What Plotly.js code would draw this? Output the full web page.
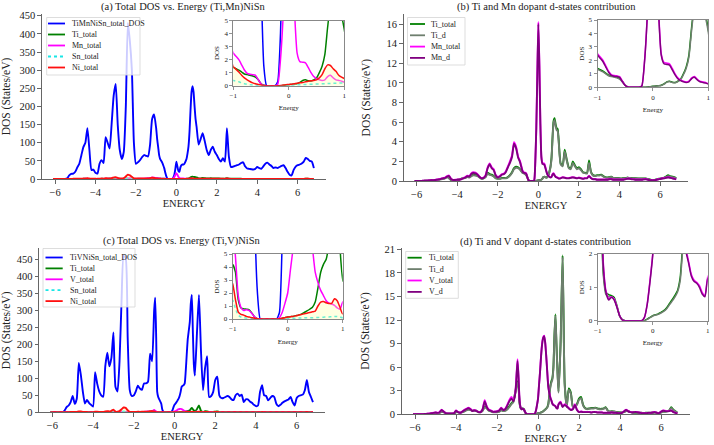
<!DOCTYPE html>
<html><head><meta charset="utf-8">
<script src="https://cdn.plot.ly/plotly-3.0.1.min.js"></script>
<style>html,body{margin:0;padding:0;background:#fff}#chart{width:714px;height:445px}</style>
</head><body><div id="chart"></div>
<script>
// ---------------- DATA ----------------
const energy = [
 -6.1,-6.0,-5.9,-5.8,-5.7,-5.6,-5.5,-5.4,-5.3,-5.2,
 -5.1,-5.0,-4.9,-4.8,-4.7,-4.6,-4.5,-4.4,-4.3,-4.2,
 -4.1,-4.0,-3.9,-3.8,-3.7,-3.6,-3.5,-3.4,-3.3,-3.2,
 -3.1,-3.0,-2.9,-2.8,-2.7,-2.6,-2.5,-2.4,-2.3,-2.2,
 -2.1,-2.0,-1.9,-1.8,-1.7,-1.6,-1.5,-1.4,-1.3,-1.2,
 -1.1,
 -1.0,-0.95,-0.9,-0.85,-0.8,-0.75,-0.7,-0.65,-0.6,-0.55,
 -0.5,-0.45,-0.4,-0.35,-0.3,-0.25,-0.2,-0.15,-0.1,-0.05,
 0.0,0.05,0.1,0.15,0.2,0.25,0.3,0.35,0.4,0.45,
 0.5,0.55,0.6,0.65,0.7,0.75,0.8,0.85,0.9,0.95,
 1.0,
 1.1,1.2,1.3,1.4,1.5,1.6,1.7,1.8,1.9,2.0,
 2.1,2.2,2.3,2.4,2.5,2.6,2.7,2.8,2.9,3.0,
 3.1,3.2,3.3,3.4,3.5,3.6,3.7,3.8,3.9,4.0,
 4.1,4.2,4.3,4.4,4.5,4.6,4.7,4.8,4.9,5.0,
 5.1,5.2,5.3,5.4,5.5,5.6,5.7,5.8,5.9,6.0,
 6.1,6.2,6.3,6.4,6.5,6.6,6.7,6.8];

// (Ti,Mn)NiSn
const totA = [
 0,0,0,0,0,0,0,2,10,14,
 15,20,32,42,65,88,100,140,80,25,
 26,17,15,42,52,44,115,100,84,153,
 230,262,150,80,55,75,200,430,380,300,
 100,42,46,52,60,66,64,62,95,165,
 178,
 140,110,88,65,55,50,45,38,30,18,
 8,1.5,0,0,0,0,0.3,4,12,28,
 48,35,22,20,32,38,40,40,42,48,
 55,70,90,130,190,240,256,240,200,165,
 144,
 95,110,126,105,80,66,80,89,75,66,
 55,48,57,48,140,60,33,34,36,38,
 40,44,46,35,29,28,27,26,28,33,
 30,28,35,42,45,40,36,30,32,30,
 33,36,38,30,20,12,10,25,34,38,
 40,43,48,58,55,50,48,30];
const tiA = [
 0,0,0,0,0,0.02,0.03,0.05,0.07,0.1,
 0.1,0.12,0.15,0.2,0.25,0.3,0.45,0.3,0.1,0.1,
 0.1,0.12,0.15,0.25,0.3,0.35,0.45,0.4,0.55,0.65,
 0.6,0.55,0.4,0.25,0.3,0.45,0.85,0.7,0.65,0.5,
 0.3,0.25,0.25,0.3,0.3,0.3,0.4,0.6,0.9,1.3,
 1.45,
 1.4,1.3,1.2,1.05,0.9,0.85,0.8,0.75,0.65,0.45,
 0.15,0.03,0,0,0,0,0,0,0.02,0.05,
 0.07,0.1,0.12,0.15,0.25,0.4,0.45,0.38,0.35,0.45,
 0.6,1.0,1.5,2.4,4.5,6.1,6.4,5.8,5.4,5.3,
 4.3,
 1.8,1.6,3.2,2.2,1.4,1.3,2.0,1.6,1.3,1.4,
 1.2,0.9,0.85,0.8,2.1,0.9,0.6,0.55,0.6,0.6,
 0.65,0.5,0.4,0.35,0.4,0.45,0.3,0.3,0.3,0.28,
 0.25,0.3,0.3,0.35,0.3,0.3,0.28,0.28,0.27,0.26,
 0.25,0.25,0.25,0.2,0.15,0.1,0.1,0.15,0.2,0.25,
 0.3,0.35,0.45,0.6,0.5,0.45,0.4,0.3];
const tiDA = [
 0,0,0,0,0,0.02,0.03,0.04,0.06,0.08,
 0.09,0.1,0.13,0.17,0.22,0.27,0.38,0.26,0.09,0.09,
 0.09,0.1,0.13,0.22,0.27,0.31,0.4,0.36,0.5,0.58,
 0.55,0.5,0.36,0.22,0.27,0.4,0.75,0.62,0.58,0.45,
 0.27,0.22,0.22,0.27,0.27,0.27,0.36,0.55,0.82,1.2,
 1.35,
 1.32,1.24,1.14,1.0,0.86,0.8,0.76,0.7,0.6,0.4,
 0.13,0.02,0,0,0,0,0,0,0.02,0.04,
 0.06,0.09,0.11,0.14,0.23,0.38,0.43,0.36,0.33,0.43,
 0.56,0.93,1.4,2.25,4.3,5.9,6.2,5.6,5.2,5.1,
 4.1,
 1.7,1.5,3.0,2.1,1.3,1.2,1.85,1.5,1.2,1.3,
 1.1,0.85,0.8,0.75,1.85,0.85,0.55,0.5,0.55,0.55,
 0.6,0.46,0.37,0.32,0.37,0.42,0.28,0.28,0.28,0.26,
 0.23,0.28,0.28,0.32,0.28,0.28,0.26,0.26,0.25,0.24,
 0.23,0.23,0.23,0.18,0.14,0.09,0.09,0.14,0.18,0.23,
 0.27,0.32,0.4,0.5,0.45,0.4,0.35,0.27];
const mnA = [
 0,0,0,0.01,0.02,0.03,0.05,0.06,0.08,0.1,
 0.12,0.15,0.18,0.25,0.3,0.35,0.5,0.55,0.2,0.12,
 0.12,0.15,0.15,0.2,0.3,0.4,0.55,0.5,0.8,0.9,
 0.85,0.7,0.45,0.3,0.35,0.6,1.4,1.8,1.4,1.2,
 0.6,0.4,0.5,0.7,0.75,1.0,1.5,2.0,2.6,3.95,
 3.5,
 2.5,2.25,2.0,1.6,1.2,0.95,0.88,0.85,0.8,0.45,
 0.15,0.02,0,0,0,0,0.1,2.0,5.5,11,
 16.2,12,6,2.5,1.85,1.8,1.75,1.4,1.0,0.7,
 0.55,0.45,0.4,0.45,0.7,0.8,0.6,0.45,0.4,0.35,
 0.28,
 0.3,0.4,0.35,0.3,0.3,0.35,0.4,0.35,0.3,0.35,
 0.3,0.25,0.3,0.3,0.55,0.3,0.2,0.2,0.15,0.15,
 0.15,0.15,0.15,0.15,0.2,0.2,0.15,0.15,0.15,0.15,
 0.15,0.15,0.2,0.25,0.25,0.2,0.18,0.15,0.15,0.15,
 0.15,0.18,0.2,0.15,0.1,0.08,0.08,0.12,0.18,0.22,
 0.28,0.3,0.35,0.4,0.35,0.3,0.25,0.2];
const mnDA = [
 0,0,0,0.01,0.02,0.03,0.04,0.05,0.07,0.09,
 0.1,0.13,0.16,0.22,0.27,0.31,0.45,0.5,0.18,0.1,
 0.1,0.13,0.13,0.18,0.27,0.36,0.5,0.45,0.73,0.82,
 0.78,0.64,0.41,0.27,0.32,0.55,1.3,1.7,1.3,1.1,
 0.55,0.36,0.45,0.64,0.7,0.92,1.4,1.85,2.45,3.8,
 3.35,
 2.4,2.15,1.9,1.5,1.12,0.88,0.82,0.8,0.74,0.41,
 0.13,0.02,0,0,0,0,0.1,1.95,5.4,10.8,
 16.0,11.8,5.8,2.4,1.75,1.7,1.65,1.3,0.93,0.64,
 0.5,0.41,0.36,0.41,0.65,0.74,0.55,0.41,0.36,0.32,
 0.25,
 0.27,0.36,0.32,0.27,0.27,0.32,0.36,0.32,0.27,0.32,
 0.27,0.22,0.27,0.27,0.5,0.27,0.18,0.18,0.13,0.13,
 0.13,0.13,0.13,0.13,0.18,0.18,0.13,0.13,0.13,0.13,
 0.13,0.13,0.18,0.22,0.22,0.18,0.16,0.13,0.13,0.13,
 0.13,0.16,0.18,0.13,0.09,0.07,0.07,0.1,0.16,0.2,
 0.25,0.27,0.32,0.36,0.32,0.27,0.22,0.18];
const snA = [
 0,0,0,0,0.01,0.02,0.05,0.1,0.15,0.2,
 0.25,0.3,0.35,0.4,0.5,0.6,0.7,0.8,0.5,0.3,
 0.3,0.3,0.3,0.5,0.6,0.5,0.8,0.7,0.6,0.9,
 1.2,1.3,0.8,0.5,0.4,0.6,1.2,1.8,1.5,1.2,
 0.5,0.3,0.3,0.35,0.4,0.45,0.4,0.4,0.5,0.6,
 0.5,
 0.4,0.35,0.3,0.22,0.15,0.1,0.08,0.06,0.05,0.03,
 0.02,0.01,0,0,0,0,0,0,0.01,0.02,
 0.04,0.05,0.06,0.07,0.08,0.09,0.1,0.1,0.11,0.12,
 0.13,0.14,0.15,0.15,0.16,0.17,0.18,0.19,0.2,0.2,
 0.2,
 0.22,0.25,0.3,0.28,0.25,0.22,0.25,0.28,0.25,0.22,
 0.2,0.2,0.22,0.2,0.35,0.2,0.15,0.15,0.15,0.15,
 0.15,0.15,0.15,0.12,0.12,0.12,0.12,0.12,0.12,0.13,
 0.12,0.12,0.14,0.16,0.17,0.16,0.15,0.13,0.13,0.13,
 0.13,0.14,0.15,0.13,0.1,0.08,0.07,0.1,0.13,0.15,
 0.16,0.17,0.2,0.24,0.22,0.2,0.18,0.12];
const niA = [
 0,0,0,0,0.02,0.05,0.1,0.2,0.3,0.4,
 0.5,0.6,0.7,0.8,1.0,1.3,1.5,2.0,1.2,0.6,
 0.6,0.5,0.5,1.0,1.3,1.1,2.0,1.8,1.6,2.5,
 4.0,5.0,3.0,1.8,1.5,2.5,7.0,12,10,6,
 2.0,1.2,1.3,1.5,1.6,1.8,1.8,1.8,2.5,3.5,
 2.8,
 1.46,1.25,1.05,0.8,0.6,0.45,0.32,0.22,0.15,0.1,
 0.05,0.01,0,0,0,0,0,0.02,0.05,0.08,
 0.1,0.12,0.15,0.18,0.22,0.25,0.3,0.35,0.38,0.4,
 0.45,0.6,0.85,1.3,1.6,1.55,1.3,1.1,0.8,0.65,
 0.55,
 0.6,0.8,1.0,0.9,0.7,0.6,0.8,0.9,0.7,0.6,
 0.55,0.5,0.55,0.5,1.2,0.5,0.35,0.35,0.35,0.38,
 0.4,0.42,0.45,0.35,0.3,0.3,0.28,0.28,0.3,0.32,
 0.3,0.3,0.35,0.42,0.45,0.4,0.36,0.3,0.32,0.3,
 0.32,0.35,0.38,0.3,0.2,0.12,0.1,0.25,0.32,0.38,
 0.4,0.42,0.48,0.55,0.52,0.48,0.45,0.3];

// (Ti,V)NiSn
const totC = [
 0,0,0,0,0,0,0,5,15,20,
 30,48,25,40,145,110,60,26,36,28,
 22,17,118,85,62,50,46,135,175,135,
 160,235,75,61,150,330,460,455,220,66,
 48,50,62,78,70,66,85,85,90,172,
 150,
 300,337,220,60,45,38,32,25,8,2,
 0,0,0,0,0,0,0,0.5,6,15,
 22,26,30,35,40,48,60,75,78,80,
 85,120,170,215,240,265,320,345,240,140,
 108,
 230,345,180,65,130,165,45,48,60,95,
 105,50,42,42,45,48,45,38,36,50,
 55,48,52,30,38,38,32,28,22,18,
 20,60,80,50,48,35,42,48,45,25,
 18,22,28,32,35,38,45,30,20,42,
 48,50,52,65,95,60,45,30];
const tiC = [
 0,0,0,0,0,0,0.02,0.03,0.05,0.08,
 0.1,0.12,0.15,0.2,0.35,0.3,0.15,0.1,0.1,0.1,
 0.1,0.3,0.3,0.2,0.3,0.4,0.55,0.65,0.6,0.45,
 0.5,0.45,0.3,0.3,0.5,1.0,0.8,0.5,0.4,0.3,
 0.3,0.3,0.35,0.55,0.45,0.5,0.7,1.0,1.4,1.7,
 3.0,
 4.2,3.6,1.5,0.85,0.78,0.75,0.7,0.45,0.15,0.03,
 0,0,0,0,0,0,0,0,0.05,0.1,
 0.15,0.18,0.2,0.25,0.3,0.38,0.5,0.62,0.75,0.9,
 1.3,2.4,3.6,4.2,4.6,6.0,10,12.7,9,5.5,
 2.9,
 9,20.2,4.0,1.0,3.3,2.8,1.0,1.0,1.3,2.0,
 2.2,1.2,0.8,0.7,0.75,0.8,0.8,0.85,0.75,0.7,
 0.7,0.75,0.9,0.5,0.35,0.4,0.35,0.3,0.28,0.25,
 0.25,0.3,0.45,0.4,0.3,0.25,0.2,0.2,0.2,0.2,
 0.18,0.18,0.2,0.2,0.2,0.2,0.25,0.2,0.15,0.25,
 0.35,0.35,0.4,0.5,0.9,0.6,0.4,0.2];
const tiDC = [
 0,0,0,0,0,0,0.02,0.03,0.04,0.07,
 0.09,0.1,0.13,0.18,0.3,0.26,0.13,0.09,0.09,0.09,
 0.09,0.26,0.26,0.18,0.26,0.35,0.5,0.58,0.54,0.4,
 0.45,0.4,0.26,0.26,0.45,0.9,0.72,0.45,0.36,0.26,
 0.26,0.26,0.3,0.5,0.4,0.45,0.62,0.9,1.28,1.55,
 2.8,
 4.0,3.4,1.4,0.78,0.72,0.7,0.65,0.41,0.13,0.02,
 0,0,0,0,0,0,0,0,0.04,0.09,
 0.14,0.17,0.19,0.23,0.28,0.35,0.47,0.58,0.7,0.85,
 1.2,2.25,3.4,4.0,4.4,5.8,9.7,12.5,8.8,5.3,
 2.75,
 8.8,20.0,3.8,0.95,3.1,2.65,0.95,0.92,1.2,1.85,
 2.05,1.1,0.74,0.65,0.7,0.74,0.74,0.8,0.7,0.65,
 0.65,0.7,0.84,0.46,0.32,0.37,0.32,0.28,0.26,0.23,
 0.23,0.28,0.42,0.37,0.28,0.23,0.18,0.18,0.18,0.18,
 0.16,0.16,0.18,0.18,0.18,0.18,0.23,0.18,0.14,0.23,
 0.32,0.32,0.37,0.46,0.8,0.55,0.37,0.18];
const vC = [
 0,0,0,0,0,0.02,0.05,0.08,0.1,0.15,
 0.2,0.25,0.2,0.3,0.6,0.35,0.15,0.1,0.1,0.1,
 0.15,0.5,0.3,0.2,0.35,0.55,0.7,0.85,0.7,0.45,
 0.55,0.45,0.3,0.3,0.7,1.8,1.0,0.6,0.5,0.35,
 0.35,0.4,0.5,0.85,0.6,0.7,1.2,1.8,2.2,1.8,
 3.0,
 7.0,4.8,1.8,0.9,0.65,0.72,0.65,0.42,0.15,0.02,
 0,0,0,0,0,0,0,0.1,0.5,1.2,
 2.0,3.8,5.5,7.5,9.0,9.8,10.0,9.2,7.5,5.5,
 3.6,2.8,2.2,1.8,1.4,1.22,1.15,1.05,0.85,0.75,
 1.3,
 1.6,1.0,1.3,1.1,0.8,0.6,0.7,1.3,0.6,0.3,
 0.35,0.3,0.3,0.3,0.3,0.25,0.3,0.3,0.25,0.25,
 0.25,0.2,0.2,0.2,0.2,0.25,0.2,0.2,0.15,0.15,
 0.2,0.4,0.6,0.4,0.3,0.25,0.3,0.3,0.25,0.2,
 0.15,0.15,0.15,0.2,0.2,0.25,0.3,0.2,0.15,0.35,
 0.5,0.45,0.4,0.45,0.5,0.3,0.2,0.1];
const vDC = [
 0,0,0,0,0,0.02,0.04,0.07,0.09,0.13,
 0.18,0.22,0.18,0.27,0.55,0.32,0.13,0.09,0.09,0.09,
 0.13,0.45,0.27,0.18,0.32,0.5,0.64,0.78,0.64,0.41,
 0.5,0.41,0.27,0.27,0.64,1.65,0.92,0.55,0.45,0.32,
 0.32,0.36,0.45,0.78,0.55,0.64,1.1,1.65,2.0,1.65,
 2.8,
 6.8,4.6,1.7,0.85,0.62,0.7,0.62,0.4,0.14,0.02,
 0,0,0,0,0,0,0,0.1,0.48,1.15,
 1.95,3.7,5.4,7.4,8.9,9.7,9.95,9.1,7.4,5.4,
 3.5,2.7,2.1,1.75,1.35,1.18,1.12,1.0,0.8,0.72,
 1.25,
 1.5,0.92,1.2,1.0,0.74,0.55,0.64,1.2,0.55,0.28,
 0.32,0.28,0.28,0.28,0.28,0.23,0.28,0.28,0.23,0.23,
 0.23,0.18,0.18,0.18,0.18,0.23,0.18,0.18,0.14,0.14,
 0.18,0.37,0.55,0.37,0.28,0.23,0.28,0.28,0.23,0.18,
 0.14,0.14,0.14,0.18,0.18,0.23,0.28,0.18,0.14,0.32,
 0.46,0.41,0.37,0.41,0.46,0.28,0.18,0.09];
const snC = [
 0,0,0,0,0.01,0.02,0.05,0.1,0.15,0.2,
 0.25,0.35,0.3,0.4,0.8,0.7,0.4,0.3,0.3,0.3,
 0.3,0.3,0.7,0.6,0.5,0.4,0.4,0.8,1.0,0.8,
 1.0,1.3,0.6,0.5,0.8,1.6,2.2,2.0,1.2,0.5,
 0.4,0.4,0.5,0.6,0.5,0.5,0.6,0.6,0.7,1.0,
 1.2,
 1.45,0.8,0.3,0.15,0.1,0.07,0.05,0.03,0.02,0.01,
 0,0,0,0,0,0,0,0,0.01,0.02,
 0.03,0.04,0.05,0.06,0.07,0.08,0.09,0.1,0.1,0.1,
 0.11,0.12,0.13,0.14,0.15,0.16,0.17,0.19,0.2,0.15,
 0.1,
 0.2,0.3,0.25,0.15,0.2,0.22,0.15,0.15,0.18,0.22,
 0.22,0.18,0.16,0.16,0.17,0.18,0.17,0.16,0.15,0.18,
 0.18,0.17,0.18,0.12,0.13,0.13,0.12,0.11,0.1,0.09,
 0.1,0.18,0.22,0.16,0.16,0.13,0.14,0.16,0.15,0.1,
 0.08,0.09,0.1,0.11,0.12,0.13,0.15,0.11,0.08,0.14,
 0.16,0.17,0.18,0.22,0.3,0.2,0.15,0.1];
const niC = [
 0,0,0,0,0.02,0.05,0.1,0.2,0.4,0.6,
 0.8,1.2,0.8,1.0,2.5,2.2,1.2,0.7,0.8,0.6,
 0.5,0.6,2.0,1.5,1.2,1.0,1.0,2.5,3.5,2.5,
 4.5,8.0,2.0,1.5,3.5,9.0,14,13,6,1.5,
 1.0,1.0,1.2,1.6,1.3,1.4,1.8,1.8,2.0,3.0,
 3.5,
 2.7,1.5,0.55,0.35,0.3,0.2,0.15,0.1,0.05,0.02,
 0,0,0,0,0,0,0,0.02,0.05,0.1,
 0.15,0.18,0.2,0.25,0.3,0.35,0.4,0.45,0.5,0.55,
 0.6,1.0,1.3,1.35,1.25,1.2,1.2,1.55,1.4,0.9,
 0.4,
 0.8,1.5,1.0,0.6,0.9,1.0,0.5,0.5,0.6,0.9,
 1.0,0.6,0.5,0.5,0.5,0.5,0.5,0.45,0.4,0.5,
 0.55,0.5,0.5,0.35,0.4,0.4,0.35,0.3,0.25,0.22,
 0.25,0.5,0.7,0.5,0.45,0.35,0.4,0.45,0.42,0.28,
 0.2,0.25,0.3,0.35,0.38,0.4,0.45,0.32,0.22,0.4,
 0.45,0.48,0.5,0.6,0.8,0.55,0.42,0.3];

const legendA = ['TiMnNiSn_total_DOS','Ti_total','Mn_total','Sn_total','Ni_total'];
const legendB = ['Ti_total','Ti_d','Mn_total','Mn_d'];
const legendC = ['TiVNiSn_total_DOS','Ti_total','V_total','Sn_total','Ni_total'];
const legendD = ['Ti_total','Ti_d','V_total','V_d'];
const titles = ['(a) Total DOS vs. Energy (Ti,Mn)NiSn','(b) Ti and Mn dopant d-states contribution',
                '(c) Total DOS vs. Energy (Ti,V)NiSn','(d) Ti and V dopant d-states contribution'];
const mainTicksX = [-6,-4,-2,0,2,4,6];

// ---------------- STYLE / LAYOUT ----------------
const W = 714, H = 445;
const F = 'Liberation Serif, serif';
const TXT = '#222';
const COL = {blue:'#0000ff', green:'#008000', magenta:'#ff00ff', cyan:'#19e6e6',
             red:'#ff1010', gray:'#6e7f6e', purple:'#800080'};
const NIFILL = 'rgba(255,255,170,0.35)';

const panels = [
 {series:[[totA,'blue'],[tiA,'green'],[mnA,'magenta'],[snA,'cyan','dot'],[niA,'red',null,true]], names:legendA,
  mx:[41.9,326], my:[13.9,179], yr:[0,455], dt:50,
  ix:[233.3,344.3], iy:[20.5,85.7], iyr:[0,5], idt:1,
  tx:183.5, ty:7.3,
  lg:{box:[46.7,140,17.5,75], y0:23.5, dy:11, lx:[48,65], tx:70}},
 {series:[[tiA,'green'],[tiDA,'gray'],[mnA,'magenta'],[mnDA,'purple']], names:legendB,
  mx:[403.5,688.4], my:[14.2,181], yr:[0,17], dt:2,
  ix:[597.5,708.3], iy:[20,87.3], iyr:[0,5], idt:1,
  tx:546, ty:7.3,
  lg:{box:[407.5,465,17.5,65], y0:24, dy:11.3, lx:[410,425], tx:428.5}},
 {series:[[totC,'blue'],[tiC,'green'],[vC,'magenta'],[snC,'cyan','dot'],[niC,'red',null,true]], names:legendC,
  mx:[39.1,325.2], my:[248.4,412.3], yr:[0,482], dt:50,
  ix:[232.7,342.7], iy:[254,319], iyr:[0,5], idt:1,
  tx:182.3, ty:240.7,
  lg:{box:[43,135,248.5,307], y0:257.5, dy:10.9, lx:[45.5,62.7], tx:68}},
 {series:[[tiC,'green'],[tiDC,'gray'],[vC,'magenta'],[vDC,'purple']], names:legendD,
  mx:[401.7,689.7], my:[247.7,414.3], yr:[0,21.2], dt:3,
  ix:[597.7,707.7], iy:[254,320.7], iyr:[0,2], idt:1,
  tx:545.8, ty:241.7,
  lg:{box:[405.7,458.3,251.5,298.3], y0:257.7, dy:11.4, lx:[407.5,421.7], tx:426.5}}
];

const traces = [];
const layout = {
  width:W, height:H, margin:{l:0,r:0,t:0,b:0}, showlegend:false,
  paper_bgcolor:'#ffffff', plot_bgcolor:'#ffffff',
  font:{family:F, color:TXT}, shapes:[], annotations:[]
};
const pxX = v => v / W, pxY = v => 1 - v / H;

panels.forEach((P, i) => {
  const s = i ? String(i + 1) : '';
  const k = String(i + 5);
  // main axes
  layout['xaxis' + s] = {
    domain:[pxX(P.mx[0]), pxX(P.mx[1])], anchor:'y' + s, range:[-6.65, 7.4],
    tickmode:'array', tickvals:mainTicksX, ticks:'outside', ticklen:3.5, tickwidth:1, tickcolor:'#666',
    showline:true, linecolor:'#666', linewidth:1, showgrid:false, zeroline:false,
    tickfont:{family:F, size:10.5, color:TXT}, fixedrange:true,
    title:{text:'ENERGY', font:{family:F, size:10.5, color:TXT}, standoff:1}
  };
  layout['yaxis' + s] = {
    domain:[pxY(P.my[1]), pxY(P.my[0])], anchor:'x' + s, range:P.yr,
    tick0:0, dtick:P.dt, ticks:'outside', ticklen:3.5, tickwidth:1, tickcolor:'#666',
    showline:true, linecolor:'#666', linewidth:1, showgrid:false, zeroline:false,
    tickfont:{family:F, size:10.5, color:TXT}, fixedrange:true,
    title:{text:'DOS (States/eV)', font:{family:F, size:11.5, color:TXT}}
  };
  // inset axes
  layout['xaxis' + k] = {
    domain:[pxX(P.ix[0]), pxX(P.ix[1])], anchor:'y' + k, range:[-1, 1],
    tick0:-1, dtick:1, ticks:'outside', ticklen:3, tickwidth:0.8, tickcolor:'#777',
    showline:true, mirror:true, linecolor:'#888', linewidth:1, showgrid:false, zeroline:false,
    tickfont:{family:F, size:7, color:TXT}, fixedrange:true,
    title:{text:'Energy', font:{family:F, size:7, color:TXT}, standoff:6}
  };
  layout['yaxis' + k] = {
    domain:[pxY(P.iy[1]), pxY(P.iy[0])], anchor:'x' + k, range:P.iyr,
    tick0:0, dtick:P.idt, ticks:'outside', ticklen:3, tickwidth:0.8, tickcolor:'#777',
    showline:true, mirror:true, linecolor:'#888', linewidth:1, showgrid:false, zeroline:false,
    tickfont:{family:F, size:7, color:TXT}, fixedrange:true,
    title:{text:'DOS', font:{family:F, size:7, color:TXT}, standoff:3}
  };
  // traces: main + inset
  P.series.forEach(([ys, c, dash, fill], j) => {
    [['x' + s, 'y' + s, 1.9], ['x' + k, 'y' + k, 1.5]].forEach(([xa, ya, w]) => {
      const t = {type:'scatter', mode:'lines', x:energy, y:ys, xaxis:xa, yaxis:ya,
        name:P.names[j], hoverinfo:'skip',
        line:{color:COL[c], width:w, shape:'spline', smoothing:0.5, dash:dash || 'solid'}};
      if (fill) { t.fill = 'tozeroy'; t.fillcolor = NIFILL; }
      traces.push(t);
    });
  });
  // panel title
  layout.annotations.push({xref:'paper', yref:'paper', x:pxX(P.tx), y:pxY(P.ty), text:titles[i],
    showarrow:false, xanchor:'center', yanchor:'middle', font:{family:F, size:10.5, color:TXT}});
  // legend (drawn as box + samples + text)
  const L = P.lg;
  layout.shapes.push({type:'rect', xref:'paper', yref:'paper', layer:'above',
    x0:pxX(L.box[0]), x1:pxX(L.box[1]), y0:pxY(L.box[3]), y1:pxY(L.box[2]),
    fillcolor:'rgba(255,255,255,0.8)', line:{color:'#d4d4d4', width:0.8}});
  P.series.forEach(([ys, c, dash], j) => {
    const yc = L.y0 + j * L.dy;
    layout.shapes.push({type:'line', xref:'paper', yref:'paper', layer:'above',
      x0:pxX(L.lx[0]), x1:pxX(L.lx[1]), y0:pxY(yc), y1:pxY(yc),
      line:{color:COL[c], width:1.8, dash:dash || 'solid'}});
    layout.annotations.push({xref:'paper', yref:'paper', x:pxX(L.tx), y:pxY(yc), text:P.names[j],
      showarrow:false, xanchor:'left', yanchor:'middle', font:{family:F, size:8, color:TXT}});
  });
});

Plotly.newPlot('chart', traces, layout, {staticPlot:true, displayModeBar:false});
</script>
</body></html>
